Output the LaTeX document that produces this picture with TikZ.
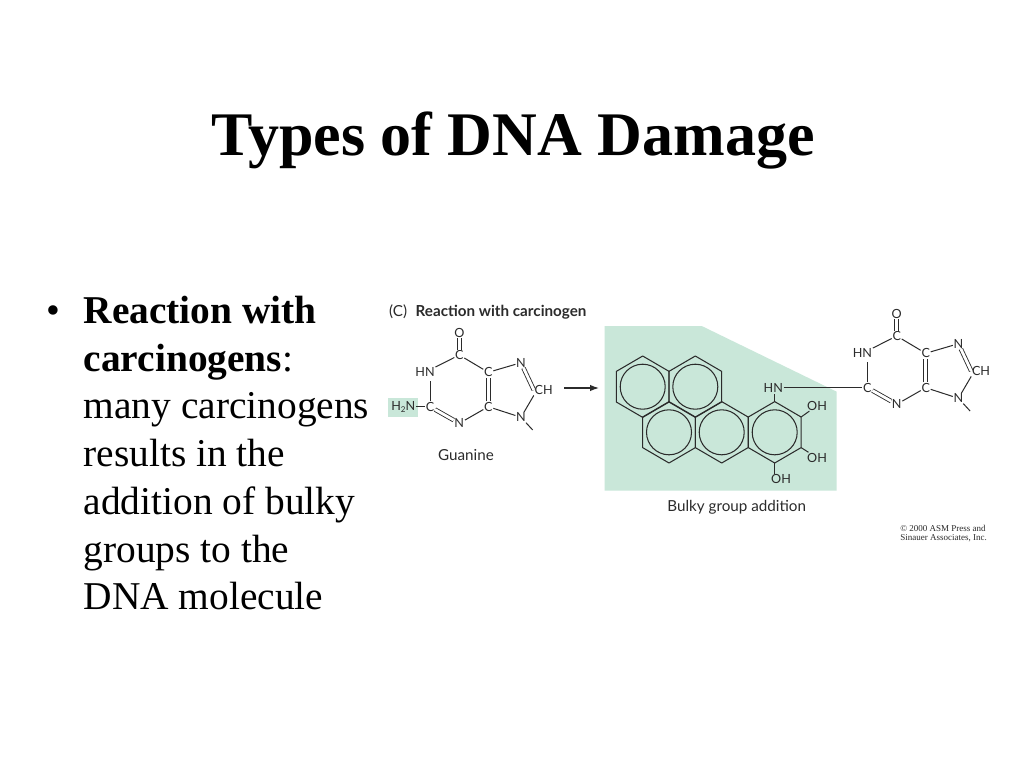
\documentclass[tikz,border=0pt]{standalone}
\usepackage{fontspec}
\usetikzlibrary{arrows.meta}
\setmainfont{Liberation Serif}
\newfontfamily\figfont{Lato}
\definecolor{mint}{HTML}{C9E7D9}
\definecolor{ink}{HTML}{2B2B2B}
\tikzset{
  atom/.style={font=\figfont\fontsize{12.6}{12.6}\selectfont,text=ink,inner sep=0.8pt,outer sep=0pt},
  bond/.style={draw=ink,line width=1pt},
  dbond/.style={draw=ink,line width=0.85pt,double=white,double distance=2.8pt},
  ringline/.style={draw=ink,line width=1.05pt,line join=round},
  slidetext/.style={anchor=base west,font=\fontsize{39.4}{39.4}\selectfont,inner sep=0pt},
  figlabel/.style={font=\figfont\fontsize{15.2}{15.2}\selectfont,text=ink,inner sep=0pt},
}
\newcommand{\guanine}[2]{%
 \begin{scope}[shift={#2}]
  \node[atom] (O#1) at (0,-22.3) {O};
  \node[atom] (Ct#1) at (0,0) {C};
  \node[atom] (HN#1) at (-34.3,17.3) {HN};
  \node[atom] (Cl#1) at (-29.3,51.7) {C};
  \node[atom] (Nb#1) at (0,68.3) {N};
  \node[atom] (Cd#1) at (29,51.7) {C};
  \node[atom] (Cu#1) at (29,17.3) {C};
  \node[atom] (Nt#1) at (61.7,7.7) {N};
  \node[atom,anchor=west] (CH#1) at (74.5,35) {CH};
  \node[atom] (Nd#1) at (61.7,62.3) {N};
  \coordinate (tail#1) at (73.4,75);
  \coordinate (hnfoot#1) at (-29.3,26);
  \draw[dbond] (O#1) -- (Ct#1);
  \draw[bond] (Ct#1) -- (HN#1);
  \draw[bond] (hnfoot#1) -- (Cl#1);
  \draw[dbond] (Cl#1) -- (Nb#1);
  \draw[bond] (Nb#1) -- (Cd#1);
  \draw[dbond] (Cd#1) -- (Cu#1);
  \draw[bond] (Cu#1) -- (Ct#1);
  \draw[bond] (Cu#1) -- (Nt#1);
  \draw[dbond] (Nt#1) -- (CH#1.west);
  \draw[bond] (CH#1.south west) -- (Nd#1);
  \draw[bond] (Nd#1) -- (Cd#1);
  \draw[bond] (Nd#1) -- (tail#1);
 \end{scope}}
\newcommand{\hexring}[2]{%
 \begin{scope}[shift={#2}]
  \coordinate (#1t) at (0,-30.7);
  \coordinate (#1r) at (26.4,-15.3);
  \coordinate (#1s) at (26.4,15.3);
  \coordinate (#1b) at (0,30.7);
  \coordinate (#1k) at (-26.4,15.3);
  \coordinate (#1l) at (-26.4,-15.3);
  \draw[ringline] (#1t) -- (#1r) -- (#1s) -- (#1b) -- (#1k) -- (#1l) -- cycle;
  \node[circle,ringline,minimum size=45pt,inner sep=0pt] (#1c) at (0,0) {};
 \end{scope}}
\begin{document}
\begin{tikzpicture}[x=1pt,y=-1pt]
\useasboundingbox (0,0) rectangle (1024,768);
\fill[white] (0,0) rectangle (1024,768);
\node[anchor=base,font=\bfseries\fontsize{62}{62}\selectfont,inner sep=0pt] (title) at (513,155) {Types of DNA Damage};
\node[slidetext] (bullet) at (46,323) {•};
\node[slidetext] (l1) at (83.5,323) {\textbf{Reaction with}};
\node[slidetext] (l2) at (83.5,371) {\textbf{carcinogens}:};
\node[slidetext] (l3) at (83.5,418.5) {many carcinogens};
\node[slidetext] (l4) at (83.5,466.5) {results in the};
\node[slidetext] (l5) at (83.5,514) {addition of bulky};
\node[slidetext] (l6) at (83.5,562) {groups to the};
\node[slidetext] (l7) at (83.5,609.5) {DNA molecule};
% figure heading
\node[figlabel,anchor=west] (panel) at (389,312) {(C)};
\node[figlabel,anchor=west,font=\figfont\bfseries\fontsize{15.2}{15.2}\selectfont] (head) at (415.5,312) {Reaction with carcinogen};
% left guanine
\fill[mint] (388,398) rectangle (418,417);
\guanine{L}{(459.3,355)}
\node[atom,anchor=east] (HHN) at (416,406.7) {H\raisebox{-2pt}{\fontsize{8}{8}\selectfont 2}N};
\draw[bond] (HHN) -- (ClL);
\node[figlabel] (gu) at (466,455) {Guanine};
% reaction arrow
\coordinate (arrowA) at (564,388);
\coordinate (arrowB) at (599,388);
\draw[-{Latex[length=9pt,width=6.5pt]},line width=1.3pt,draw=ink] (arrowA) -- (arrowB);
% bulky group
\fill[mint] (604.7,326) -- (701.7,326) -- (836.7,391.7) -- (836.7,490.7) -- (604.7,490.7) -- cycle;
\hexring{a}{(642.7,386.7)}
\hexring{b}{(695.3,386.7)}
\hexring{c}{(669,432.3)}
\hexring{d}{(721.7,432.3)}
\hexring{e}{(774.7,432.3)}
\node[atom] (hn) at (773.3,388.3) {HN};
\node[atom] (oh1) at (817,405.7) {OH};
\node[atom] (oh2) at (817,457.7) {OH};
\node[atom] (oh3) at (781,479) {OH};
\draw[bond] (et) -- (et |- hn.south);
\draw[bond] (er) -- (oh1);
\draw[bond] (es) -- (oh2);
\draw[bond] (eb) -- (eb |- oh3.north);
\node[figlabel] (bulky) at (736.7,507.5) {Bulky group addition};
% right guanine
\guanine{R}{(896.7,336)}
\draw[bond] (hn.east |- ClR) -- (ClR);
% copyright
\node[font=\fontsize{9}{9.5}\selectfont,align=left,inner sep=0pt,text=ink] (copy) at (943.5,533.5) {© 2000 ASM Press and\\Sinauer Associates, Inc.};
\end{tikzpicture}
\end{document}
